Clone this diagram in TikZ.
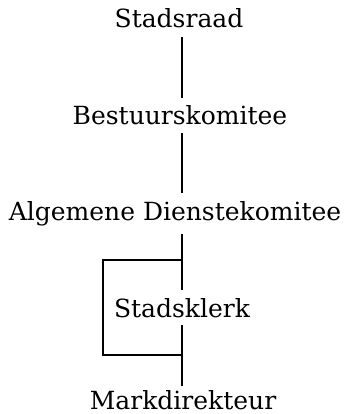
\documentclass[tikz,border=0pt]{standalone}
\usepackage{amsmath}
\usepackage{fontspec}
\setmainfont{DejaVu Serif}

\begin{document}
\begin{tikzpicture}[x=1pt, y=-1pt]
    \useasboundingbox (0, 0) rectangle (353, 414);
    \tikzset{OrgNode/.style={anchor=base, font=\fontsize{25}{30}\selectfont, text height=24pt, text depth=5pt, inner xsep=0pt, inner ysep=3pt}}
    \tikzset{Link/.style={-, line width=2.4pt}}
    \node[OrgNode] (stadsraad) at (179, 28) {Stadsraad}; % top
    \node[OrgNode] (bestuur) at (180, 125) {Bestuurskomitee};
    \node[OrgNode] (dienste) at (175, 220) {Algemene Dienstekomitee};
    \node[OrgNode] (klerk) at (182, 317) {Stadsklerk}; % on the line
    \node[OrgNode] (mark) at (183, 409) {Markdirekteur}; % bottom
    \coordinate (brtop) at (182, 260); % bracket ends
    \coordinate (brbot) at (182, 355);

    \draw[Link, shorten <=1pt] (stadsraad.south -| klerk) -- (bestuur.north -| klerk);
    \draw[Link] (bestuur.south -| klerk) -- (dienste.north -| klerk);
    \draw[Link, shorten <=6pt] (dienste.south -| klerk) -- (klerk.north);
    \draw[Link, shorten >=-4pt] (klerk.south) -- (mark.north -| klerk);
    \draw[Link, line width=2pt] (brtop) -- ++(-79, 0) |- (brbot);
\end{tikzpicture}
\end{document}
